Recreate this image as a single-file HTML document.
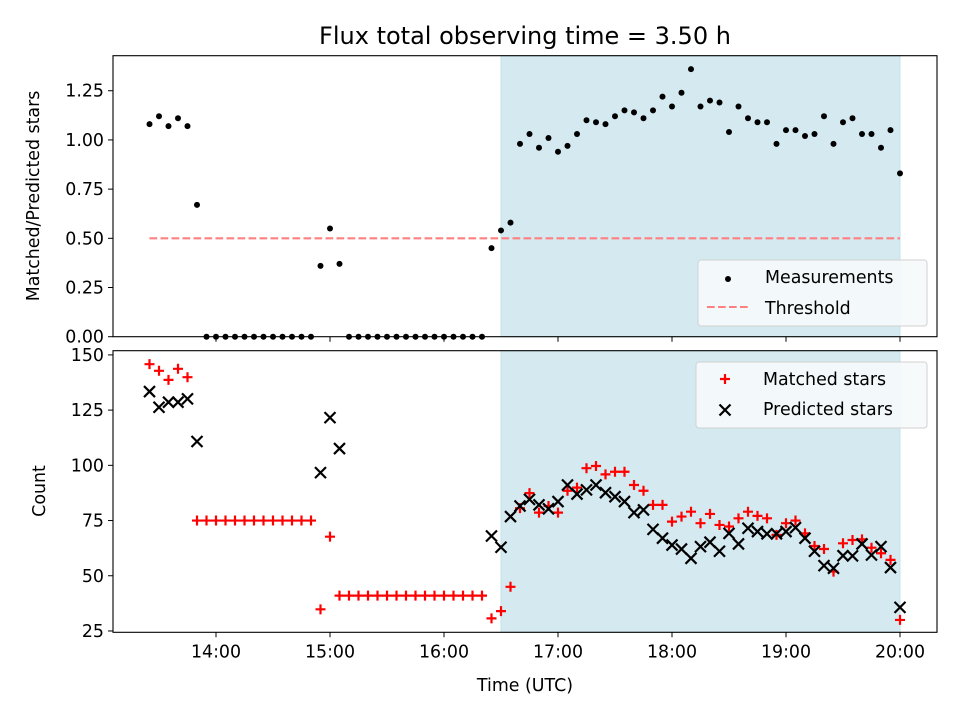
<!DOCTYPE html>
<html><head><meta charset="utf-8"><style>
html,body{margin:0;padding:0;background:#fff;}
svg{display:block;font-family:"DejaVu Sans","Liberation Sans",sans-serif;}
</style></head><body>
<svg id="chart" width="960" height="720" viewBox="0 0 960 720" xmlns="http://www.w3.org/2000/svg">
<rect width="960" height="720" fill="#fff"/>
<text x="525" y="44" font-size="24" text-anchor="middle">Flux total observing time = 3.50 h</text>
<g id="top"></g>
<g id="bot"></g>
<text transform="translate(39,196) rotate(-90)" font-size="17.4" text-anchor="middle">Matched/Predicted stars</text>
<text transform="translate(45,491) rotate(-90)" font-size="17.4" text-anchor="middle">Count</text>
<text x="525" y="691" font-size="17.4" text-anchor="middle">Time (UTC)</text>
</svg>
<script>
const times = ["13:25","13:30","13:35","13:40","13:45","13:50","13:55","14:00","14:05","14:10","14:15","14:20","14:25","14:30","14:35","14:40","14:45","14:50","14:55","15:00","15:05","15:10","15:15","15:20","15:25","15:30","15:35","15:40","15:45","15:50","15:55","16:00","16:05","16:10","16:15","16:20","16:25","16:30","16:35","16:40","16:45","16:50","16:55","17:00","17:05","17:10","17:15","17:20","17:25","17:30","17:35","17:40","17:45","17:50","17:55","18:00","18:05","18:10","18:15","18:20","18:25","18:30","18:35","18:40","18:45","18:50","18:55","19:00","19:05","19:10","19:15","19:20","19:25","19:30","19:35","19:40","19:45","19:50","19:55","20:00"];
const ratio = [1.08,1.12,1.07,1.11,1.07,0.67,0,0,0,0,0,0,0,0,0,0,0,0,0.36,0.55,0.37,0,0,0,0,0,0,0,0,0,0,0,0,0,0,0,0.45,0.54,0.58,
0.98,1.03,0.96,1.01,0.94,0.97,1.03,1.10,1.09,1.08,1.12,1.15,1.14,1.11,1.15,1.22,1.17,1.24,1.36,1.17,1.20,1.19,1.04,1.17,1.11,1.09,1.09,0.98,1.05,1.05,1.02,1.03,1.12,0.98,1.09,1.11,1.03,1.03,0.96,1.05,0.83];
const matched = [145.8,142.8,138.7,143.7,139.9,75,75,75,75,75,75,75,75,75,75,75,75,75,34.8,67.7,41,41,41,41,41,41,41,41,41,41,41,41,41,41,41,41,30.7,34,45,
80.6,87.4,78.6,81.6,78.6,88.5,89.9,98.7,99.7,95.9,97.1,97.1,91.1,88.5,82.1,82.1,74.5,76.8,79.0,73.8,78.0,73.0,72.3,76.0,79.0,77.1,76.0,68.5,73.8,75.0,69.2,63.5,62.1,51.9,64.7,66.2,66.5,62.7,60.2,57.2,30.0];
const predicted = [133.4,126.3,128.6,128.6,130.1,110.8,null,null,null,null,null,null,null,null,null,null,null,null,96.7,121.6,107.6,null,null,null,null,null,null,null,null,null,null,null,null,null,null,null,68,62.9,76.8,
81.6,84.6,82.1,80.3,83.6,91.1,87.0,88.9,91.1,87.6,85.8,83.6,78.6,79.8,71.0,67.0,63.9,62.1,57.9,63.2,65.2,61.1,69.2,64.4,71.5,70.0,69.0,69.0,70.0,71.8,67.0,61.1,54.6,53.4,59.1,59.0,64.4,59.4,63.2,53.7,35.7];
const threshold = 0.5;
const shadeStart = "16:30", shadeEnd = "20:00";
const xTickLabels = ["14:00","15:00","16:00","17:00","18:00","19:00","20:00"];
const topTicks = [0,0.25,0.5,0.75,1.0,1.25];
const botTicks = [25,50,75,100,125,150];

const NS="http://www.w3.org/2000/svg";
function mk(tag,attrs,parent){const e=document.createElementNS(NS,tag);for(const k in attrs)e.setAttribute(k,attrs[k]);parent.appendChild(e);return e;}
function tmin(s){const p=s.split(":");return +p[0]*60+ +p[1];}
const L=113,R=937;
function X(s){return 216+(tmin(s)-840)*114/60;}
const T={top:55.7,bot:336.7,vmin:0,vmax:1.428};
const B={top:350.7,bot:632.3,vmin:24.4,vmax:151.9};
function Yt(v){return T.bot-(v-T.vmin)/(T.vmax-T.vmin)*(T.bot-T.top);}
function Yb(v){return B.bot-(v-B.vmin)/(B.vmax-B.vmin)*(B.bot-B.top);}
const gt=document.getElementById('top'), gb=document.getElementById('bot');
const FS=17.4;

function panel(g,P,Y,ticks,fmt,labels,nm){
  const sh=mk('rect',{x:X(shadeStart),y:P.top,width:X(shadeEnd)-X(shadeStart),height:P.bot-P.top,fill:'#d4eaf0',stroke:'#c2e1ea','stroke-width':1},g);
  
  
  ticks.forEach(v=>{
    const y=Y(v);
    mk('line',{x1:L-5,x2:L,y1:y,y2:y,stroke:'#000','stroke-width':1},g);
    const t=mk('text',{x:L-9,y:y+6,'font-size':FS,'text-anchor':'end'},g);
    t.textContent=fmt(v);
    
    
  });
  xTickLabels.forEach(s=>{
    const x=X(s);
    mk('line',{x1:x,x2:x,y1:P.bot,y2:P.bot+5,stroke:'#000','stroke-width':1},g);
    if(labels){const t=mk('text',{x:x,y:P.bot+25,'font-size':FS,'text-anchor':'middle'},g);t.textContent=s;
      
      }
  });
}
panel(gt,T,Yt,topTicks,v=>v.toFixed(2),false,'top');
panel(gb,B,Yb,botTicks,v=>String(v),true,'bottom');

const th=mk('line',{x1:X(times[0]),x2:X(times[times.length-1]),y1:Yt(threshold),y2:Yt(threshold),stroke:'#ff8080','stroke-width':2.1,'stroke-dasharray':'7.7,3.3'},gt);


ratio.forEach((v,i)=>{
  const c=mk('circle',{cx:X(times[i]),cy:Yt(v),r:3,fill:'#000'},gt);
  
  
});
function plus(g,x,y,s){return mk('path',{d:`M${x-s},${y}H${x+s}M${x},${y-s}V${y+s}`,stroke:'#ff0000','stroke-width':2.2,fill:'none'},g);}
function cross(g,x,y,s){return mk('path',{d:`M${x-s},${y-s}L${x+s},${y+s}M${x-s},${y+s}L${x+s},${y-s}`,stroke:'#000','stroke-width':2.2,fill:'none'},g);}
matched.forEach((v,i)=>{
  const p=plus(gb,X(times[i]),Yb(v),5);
  
  
});
predicted.forEach((v,i)=>{
  if(v===null)return;
  const p=cross(gb,X(times[i]),Yb(v),5.5);
  
  
});
const f1=mk('rect',{x:L,y:T.top,width:R-L,height:T.bot-T.top,fill:'none',stroke:'#000','stroke-width':1.1},gt);


const f2=mk('rect',{x:L,y:B.top,width:R-L,height:B.bot-B.top,fill:'none',stroke:'#000','stroke-width':1.1},gb);



const lg1=mk('g',{},gt);


mk('rect',{x:698,y:260,width:229,height:66,rx:3,fill:'#f6f9fb','fill-opacity':0.9,stroke:'#d0d0d0','stroke-width':1},lg1);
mk('circle',{cx:728,cy:279,r:3,fill:'#000'},lg1);
let t=mk('text',{x:765,y:283,'font-size':FS},lg1);t.textContent='Measurements';
mk('line',{x1:707,x2:748,y1:307,y2:307,stroke:'#ff8080','stroke-width':2.1,'stroke-dasharray':'7.7,3.3'},lg1);
t=mk('text',{x:765,y:314,'font-size':FS},lg1);t.textContent='Threshold';

const lg2=mk('g',{},gb);


mk('rect',{x:696,y:362,width:231,height:66,rx:3,fill:'#f6f9fb','fill-opacity':0.9,stroke:'#d0d0d0','stroke-width':1},lg2);
plus(lg2,725,379,5);
t=mk('text',{x:763,y:385,'font-size':FS},lg2);t.textContent='Matched stars';
cross(lg2,725,410,5.5);
t=mk('text',{x:763,y:415,'font-size':FS},lg2);t.textContent='Predicted stars';
</script>
</body></html>
